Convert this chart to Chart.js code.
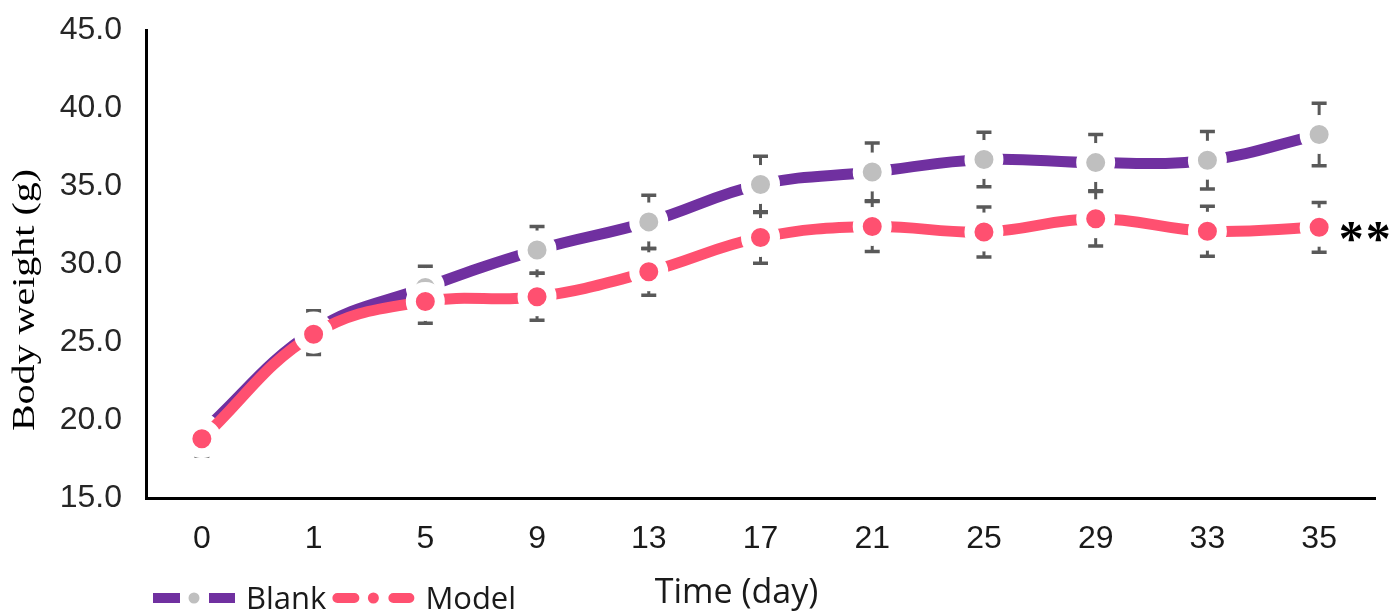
<!DOCTYPE html>
<html>
<head>
<meta charset="utf-8">
<script src="https://cdn.jsdelivr.net/npm/chart.js@4.4.1/dist/chart.umd.min.js"></script>
<style>
  html, body { margin: 0; padding: 0; background: #fff; }
  #wrap { width: 1390px; height: 613px; }
</style>
</head>
<body>
<div id="wrap"><canvas id="bodyWeight" width="1390" height="613"></canvas></div>
<script>
"use strict";

// data
const days = ["0", "1", "5", "9", "13", "17", "21", "25", "29", "33", "35"];
const blankMean = [19.2, 25.7, 28.5, 30.9, 32.7, 35.1, 35.9, 36.7, 36.5, 36.65, 38.3];
const blankSd = [0.5, 1.3, 1.35, 1.5, 1.7, 1.8, 1.85, 1.75, 1.8, 1.85, 2.0];
const modelMean = [18.8, 25.5, 27.6, 27.9, 29.5, 31.7, 32.4, 32.05, 32.9, 32.1, 32.35];
const modelSd = [1.1, 1.3, 1.4, 1.5, 1.5, 1.65, 1.6, 1.6, 1.75, 1.6, 1.6];
const yTicks = [15, 20, 25, 30, 35, 40, 45];

const seriesNames = ["Blank", "Model"];
const xTitle = "Time (day)";
const yTitle = "Body weight (g)";
const signif = "**";

const PURPLE = "#7030A0";
const PINK = "#FF5070";
const GREY = "#BFBFBF";
const BAR = "#595959";

const errors = [blankSd, modelSd];
const markerFill = [GREY, PINK];

const extras = {
  id: "extras",
  // error bars sit under the lines, the white marker rings hide their middle
  beforeDatasetsDraw(chart) {
    const { ctx, scales } = chart;
    ctx.save();
    ctx.strokeStyle = BAR;
    errors.forEach((sd, i) => {
      const meta = chart.getDatasetMeta(i);
      const values = chart.data.datasets[i].data;
      meta.data.forEach((pt, j) => {
        const top = scales.y.getPixelForValue(values[j] + sd[j]);
        const bottom = scales.y.getPixelForValue(values[j] - sd[j]);
        ctx.lineWidth = 3;
        ctx.beginPath();
        ctx.moveTo(pt.x, top);
        ctx.lineTo(pt.x, bottom);
        ctx.stroke();
        ctx.lineWidth = 3.5;
        ctx.beginPath();
        ctx.moveTo(pt.x - 7.5, top);
        ctx.lineTo(pt.x + 7.5, top);
        ctx.moveTo(pt.x - 7.5, bottom);
        ctx.lineTo(pt.x + 7.5, bottom);
        ctx.stroke();
      });
    });
    ctx.restore();
  },

  afterDraw(chart) {
    const { ctx, chartArea } = chart;
    const midX = (chartArea.left + chartArea.right) / 2;
    const midY = (chartArea.top + chartArea.bottom) / 2;

    // y axis title (the source figure is a little stretched along the axis)
    ctx.save();
    ctx.fillStyle = "#000";
    ctx.font = '32px "Liberation Serif"';
    ctx.textAlign = "center";
    ctx.textBaseline = "alphabetic";
    ctx.translate(34, midY + 36);
    ctx.rotate(-Math.PI / 2);
    ctx.scale(1.25, 1);
    ctx.fillText(yTitle, 0, 0);
    ctx.restore();

    // x axis title
    ctx.save();
    ctx.fillStyle = "#1a1a1a";
    ctx.font = '34px "Open Sans"';
    ctx.textAlign = "center";
    ctx.textBaseline = "alphabetic";
    ctx.fillText(xTitle, midX - 24, 603);
    ctx.restore();

    // legend: dash, marker, dash, name
    ctx.save();
    ctx.font = '31px "Open Sans"';
    ctx.textBaseline = "alphabetic";
    ctx.textAlign = "left";
    let x = 153;
    const ly = 598;
    chart.data.datasets.forEach((ds, i) => {
      const round = i === 1;
      ctx.strokeStyle = ds.borderColor;
      ctx.lineWidth = 10;
      ctx.lineCap = round ? "round" : "butt";
      ctx.beginPath();
      ctx.moveTo(x + (round ? 5 : 0), ly);
      ctx.lineTo(x + 27 - (round ? 5 : 0), ly);
      ctx.moveTo(x + 56 + (round ? 5 : 0), ly);
      ctx.lineTo(x + 82 - (round ? 5 : 0), ly);
      ctx.stroke();
      ctx.fillStyle = markerFill[i];
      ctx.beginPath();
      ctx.arc(x + 41, ly, 5.5, 0, Math.PI * 2);
      ctx.fill();
      ctx.fillStyle = "#1a1a1a";
      ctx.fillText(ds.label, x + 93, 609);
      x += 93 + ctx.measureText(ds.label).width + 6;
    });
    ctx.restore();

    // significance mark next to the last Model point
    const last = chart.getDatasetMeta(1).data[modelMean.length - 1];
    ctx.save();
    ctx.fillStyle = "#000";
    ctx.font = 'bold 50px "Liberation Serif"';
    ctx.textAlign = "center";
    ctx.textBaseline = "alphabetic";
    signif.split("").forEach((s, k) => {
      ctx.fillText(s, last.x + 32 + k * 27, last.y + 28);
    });
    ctx.restore();
  },
};

const ctx = document.getElementById("bodyWeight").getContext("2d");

const seriesStyle = {
  borderWidth: 11,
  tension: 0.4,
  pointRadius: 14.5,
  pointBorderWidth: 10,
  pointBorderColor: "#fff",
};

new Chart(ctx, {
  type: "line",
  data: {
    labels: days,
    datasets: [
      {
        ...seriesStyle,
        label: seriesNames[0],
        data: blankMean,
        borderColor: PURPLE,
        pointBackgroundColor: GREY,
        order: 1,
      },
      {
        ...seriesStyle,
        label: seriesNames[1],
        data: modelMean,
        borderColor: PINK,
        pointBackgroundColor: PINK,
        order: 0,
      },
    ],
  },
  options: {
    responsive: false,
    animation: false,
    layout: {
      autoPadding: false,
      padding: { top: 30, right: 15, left: 0, bottom: 0 },
    },
    plugins: {
      legend: { display: false },
      tooltip: { enabled: false },
    },
    scales: {
      x: {
        offset: true,
        grid: { display: false, drawTicks: false },
        border: { color: "#000", width: 3 },
        ticks: {
          color: "#1a1a1a",
          font: { family: "Liberation Sans", size: 32 },
          padding: 22,
          maxRotation: 0,
          autoSkip: false,
        },
        afterFit: (scale) => {
          scale.height = 115;
          scale.paddingLeft = 0;
          scale.paddingRight = 0;
        },
      },
      y: {
        min: 15,
        max: 45,
        afterBuildTicks: (scale) => {
          scale.ticks = yTicks.map((v) => ({ value: v }));
        },
        grid: { display: false, drawTicks: false },
        border: { color: "#000", width: 3 },
        ticks: {
          color: "#262626",
          font: { family: "Liberation Sans", size: 32 },
          padding: 24,
          callback: (v) => Number(v).toFixed(1),
        },
        afterFit: (scale) => {
          scale.width = 146;
          scale.paddingTop = 0;
          scale.paddingBottom = 0;
        },
      },
    },
  },
  plugins: [extras],
});
</script>
</body>
</html>
